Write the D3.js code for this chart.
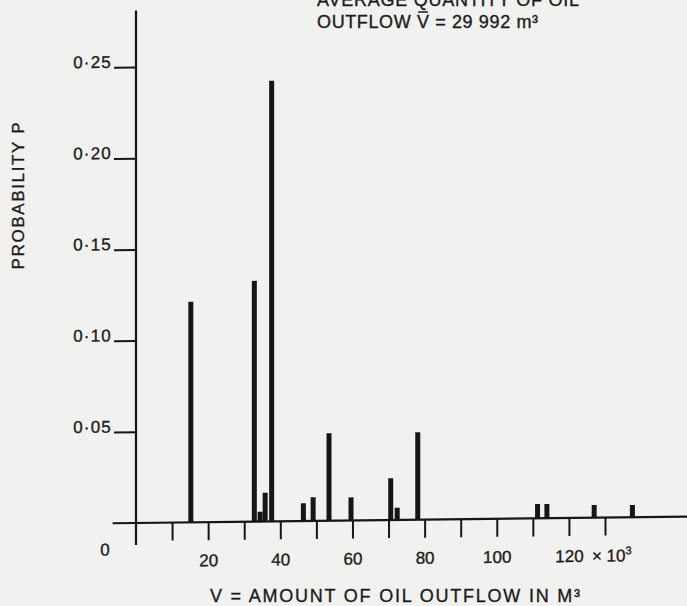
<!DOCTYPE html>
<html>
<head>
<meta charset="utf-8">
<script src="https://cdn.jsdelivr.net/npm/d3@7"></script>
<style>
  body{margin:0;background:#f1f1ef;}
  svg{display:block;font-family:"Liberation Sans",Arial,sans-serif;}
  text{fill:#1c1c1c;stroke:#1c1c1c;stroke-width:0.35px;}
</style>
</head>
<body>
<svg id="chart"></svg>
<script>
// oil outflow volumes (x 10^3 m3) and their probabilities
const volumes = [15.2, 32.8, 34.4, 35.8, 37.6, 46.4, 49.1, 53.5, 59.6, 70.6, 72.4, 78.1, 111.3, 113.9, 127.0, 137.6]
const probabilities = [0.121, 0.132, 0.0054, 0.0158, 0.2416, 0.0098, 0.013, 0.048, 0.0127, 0.0229, 0.0067, 0.048, 0.0079, 0.0078, 0.007, 0.0067]

const xTicks = [10, 20, 30, 40, 50, 60, 70, 80, 90, 100, 110, 120, 130]
const xLabelled = [20, 40, 60, 80, 100, 120]
const yTicks = [0.05, 0.10, 0.15, 0.20, 0.25]
const yTickLabels = ['0·05', '0·10', '0·15', '0·20', '0·25']

const width = 687
const height = 606
const ink = '#161616'

const svg = d3.select('#chart')
  .attr('width', width)
  .attr('height', height)

let x = d3.scaleLinear().domain([0, 130]).range([136, 605])
let y = d3.scaleLinear().domain([0, 0.25]).range([523, 67])

// the scanned page is slightly tilted: baseline rises to the right
let plot = svg.append('g')
  .attr('transform', `translate(${x(0)},0) skewY(-0.66) translate(${-x(0)},0)`)

// bars
plot.selectAll('.bar').data(volumes)
  .enter().append('rect')
  .attr('class', 'bar')
  .attr('x', d => x(d) - 2.5)
  .attr('width', 5)
  .attr('y', (d, i) => y(probabilities[i]))
  .attr('height', (d, i) => y(0) - y(probabilities[i]))
  .attr('fill', ink)

// y axis
let yAxis = d3.axisLeft(y)
  .tickValues(yTicks)
  .tickFormat((d, i) => yTickLabels[i])
  .tickSize(22)
  .tickPadding(2)
let yAxisG = plot.append('g')
  .attr('transform', `translate(${x(0)},0)`)
  .call(yAxis)
yAxisG.select('.domain').remove()
yAxisG.selectAll('line').attr('stroke', ink).attr('stroke-width', 2)
yAxisG.selectAll('text')
  .attr('dy', '0')
  .style('font-size', '17px')
  .style('letter-spacing', '1.2px')

// x axis
let xAxis = d3.axisBottom(x)
  .tickValues(xTicks)
  .tickFormat(d => xLabelled.includes(d) ? d : '')
  .tickSize(18)
  .tickPadding(14)
let xAxisG = plot.append('g')
  .attr('transform', `translate(0,${y(0)})`)
  .call(xAxis)
xAxisG.select('.domain').remove()
xAxisG.selectAll('line').attr('stroke', ink).attr('stroke-width', 2)
xAxisG.selectAll('text')
  .style('font-size', '17px')

// long axis lines
plot.append('line')
  .attr('x1', x(0)).attr('x2', x(0))
  .attr('y1', y(0.281)).attr('y2', y(-0.012))
  .attr('stroke', ink).attr('stroke-width', 2.2)
plot.append('line')
  .attr('x1', x(-6.5)).attr('x2', x(160))
  .attr('y1', y(0)).attr('y2', y(0))
  .attr('stroke', ink).attr('stroke-width', 2.2)

// origin label and multiplier
plot.append('text')
  .attr('x', x(0) - 31).attr('y', 555)
  .attr('text-anchor', 'middle')
  .style('font-size', '17px')
  .text('0')
plot.append('text')
  .attr('x', x(120) + 23).attr('y', 567)
  .style('font-size', '17px')
  .html('×  10<tspan dy="-7" style="font-size:11px">3</tspan>')

// axis titles
svg.append('text')
  .attr('x', 395).attr('y', 602)
  .attr('text-anchor', 'middle')
  .attr('textLength', 370)
  .attr('lengthAdjust', 'spacing')
  .style('font-size', '18px')
  .text('V = AMOUNT OF OIL OUTFLOW IN M³')

svg.append('text')
  .attr('transform', 'translate(24,196) rotate(-90)')
  .attr('text-anchor', 'middle')
  .attr('textLength', 147)
  .attr('lengthAdjust', 'spacing')
  .style('font-size', '17px')
  .text('PROBABILITY P')

// annotation at the top
svg.append('text')
  .attr('x', 317).attr('y', 6)
  .attr('textLength', 262)
  .attr('lengthAdjust', 'spacing')
  .style('font-size', '18px')
  .text('AVERAGE QUANTITY OF OIL')

let note = svg.append('text')
  .attr('x', 317).attr('y', 28)
  .attr('textLength', 221)
  .attr('lengthAdjust', 'spacing')
  .style('font-size', '18px')
  .text('OUTFLOW V  =  29 992 m³')

// bar over the V
let vBox = note.node().getExtentOfChar(8)
svg.append('line')
  .attr('x1', vBox.x + 1).attr('x2', vBox.x + vBox.width - 1)
  .attr('y1', 12).attr('y2', 12)
  .attr('stroke', '#1c1c1c').attr('stroke-width', 1.5)
</script>
</body>
</html>
